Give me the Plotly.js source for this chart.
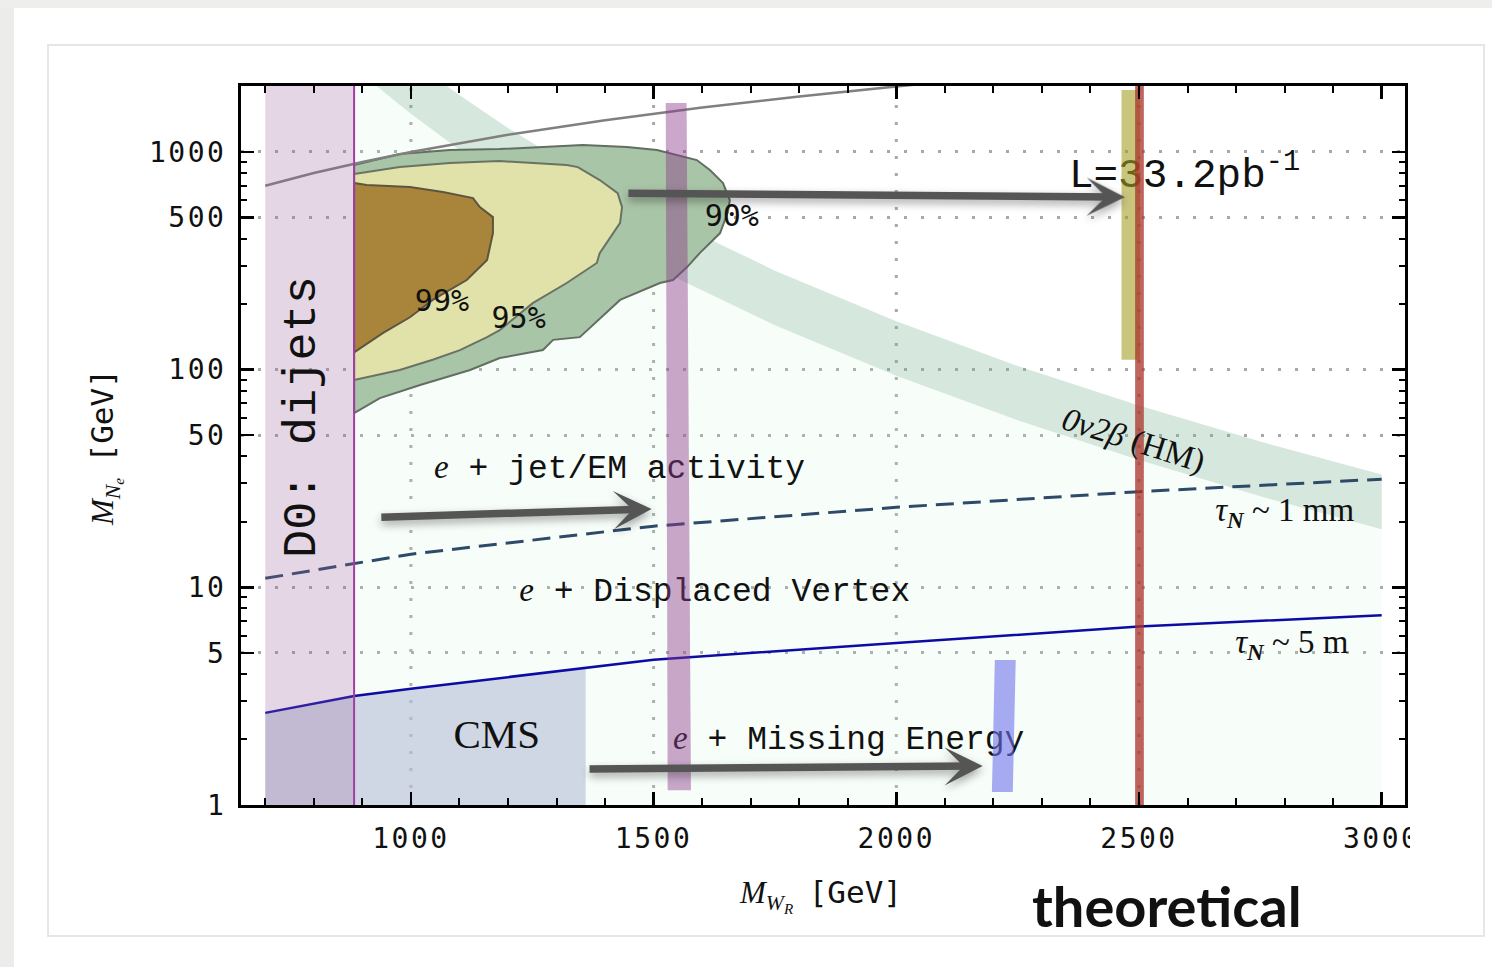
<!DOCTYPE html>
<html><head><meta charset="utf-8">
<script src="https://cdn.plot.ly/plotly-3.0.1.min.js"></script>
<style>
html,body{margin:0;padding:0;background:#fff;}
#chart{width:1492px;height:967px;}
.xtick text, .ytick text { letter-spacing: 2.5px; }
.annotation-arrow-g { filter: drop-shadow(0px 4px 4px rgba(0,0,0,0.35)); }
</style></head><body><div id="chart"></div>
<script>
// ---------- data (M_WR in GeV on x, M_Ne in GeV on y) ----------
const grayX = [700, 800, 900, 1000, 1200, 1400, 1600, 1800, 2000, 2100];
const grayY = [700, 800, 900, 1000, 1200, 1400, 1600, 1800, 2000, 2100];

const dashX = [700, 1000, 1500, 2000, 2500, 3000];
const dashY = [11.0, 14.2, 19.1, 23.3, 27.5, 31.4];

const blueX = [700, 883, 1000, 1360, 1500, 2000, 2500, 3000];
const blueY = [2.65, 3.17, 3.42, 4.26, 4.65, 5.55, 6.6, 7.45];

const bandLowX = [915, 950, 1000, 1100, 1200, 1350, 1500, 1750, 2000, 2250, 2500, 2750, 3000];
const bandLowY = [2138, 1840, 1499, 1024, 723, 451, 296, 160, 93.7, 58.5, 38.4, 26.2, 18.5];
const bandUpX = [1066, 1100, 1200, 1350, 1500, 1750, 2000, 2250, 2500, 2750, 3000];
const bandUpY = [2069, 1826, 1289, 805, 528, 285, 167, 104, 68.4, 46.7, 33];

const c90X = [883, 977, 1080, 1183, 1354, 1445, 1507, 1589, 1616, 1643, 1657, 1653, 1637, 1595, 1569, 1540, 1513, 1431, 1348, 1293, 1272, 1183, 1122, 1019, 936, 883];
const c90Y = [871, 978, 1020, 1031, 1076, 1053, 1020, 918, 826, 720, 601, 530, 424, 343, 296, 258, 250, 209, 141, 137, 123, 113, 99.6, 85, 74, 63.2];

const c95X = [883, 977, 1080, 1183, 1321, 1344, 1389, 1426, 1435, 1431, 1389, 1383, 1321, 1286, 1251, 1183, 1157, 1101, 1045, 977, 883];
const c95Y = [792, 852, 889, 908, 871, 852, 743, 647, 558, 472, 343, 309, 250, 225, 202, 152, 141, 123, 111, 99.6, 89.6];

const c99X = [883, 909, 998, 1066, 1128, 1142, 1169, 1169, 1157, 1115, 1045, 998, 942, 883];
const c99Y = [720, 705, 690, 654, 614, 558, 502, 424, 319, 258, 209, 174, 147, 120];

const cmsRightX = 1360;
const d0X = [700, 883];

const barPurpleX = [1529, 1577, 1568, 1525];
const barPurpleY = [1.17, 1.17, 1677, 1677];
const barOliveX = [2464, 2502, 2502, 2464];
const barOliveY = [111, 111, 1924, 1924];
const barRedX = [2492, 2510, 2510, 2492];
const barRedY = [0.9, 0.9, 2200, 2200];
const barBlueX = [2197, 2240, 2246, 2203];
const barBlueY = [1.147, 1.147, 4.64, 4.64];

const arrowX0 = [1445, 936, 1365];
const arrowY0 = [647, 21.0, 1.464];
const arrowX1 = [2471, 1496, 2178];
const arrowY1 = [621, 22.9, 1.51];

const xTickVals = [1000, 1500, 2000, 2500, 3000];
const xTickText = ['1000', '1500', '2000', '2500', '3000'];
const xMinor = [700, 800, 900, 1100, 1200, 1300, 1400, 1600, 1700, 1800, 1900, 2100, 2200, 2300, 2400, 2600, 2700, 2800, 2900];
const yTickVals = [1, 5, 10, 50, 100, 500, 1000];
const yTickText = ['1', '5', '10', '50', '100', '500', '1000'];
const yMinor = [2, 3, 4, 6, 7, 8, 9, 20, 30, 40, 60, 70, 80, 90, 200, 300, 400, 600, 700, 800, 900, 2000];
const xGrid = [1000, 1500, 2000, 2500];

// ---------- helpers ----------
const MONO = 'Liberation Mono, Courier New, monospace';
const SERIF = 'Liberation Serif, Times New Roman, serif';
const TICK = 'DejaVu Sans Mono, monospace';
const L = 241, T = 86, W = 1164, H = 719;
const px = v => (v - L) / W;
const py = v => (805 - v) / H;
const rev = a => a.slice().reverse();

const traces = [];
function poly(x, y, fill, line, lw) {
  traces.push({type: 'scatter', mode: lw ? 'lines' : 'none', x: x.concat([x[0]]), y: y.concat([y[0]]),
    fill: 'toself', fillcolor: fill, line: {color: line || 'rgba(0,0,0,0)', width: lw || 0},
    hoverinfo: 'skip', showlegend: false});
}
function line(x, y, color, width, dash) {
  traces.push({type: 'scatter', mode: 'lines', x: x, y: y,
    line: {color: color, width: width, dash: dash || 'solid'}, hoverinfo: 'skip', showlegend: false});
}
function txt(x, y, text, family, size, color) {
  traces.push({type: 'scatter', mode: 'text', x: [x], y: [y], text: [text], textposition: 'middle center',
    textfont: {family: family, size: size, color: color || '#111'}, hoverinfo: 'skip', showlegend: false});
}

// mint allowed region (below 0v2b band)
poly([d0X[1], d0X[1]].concat(bandLowX, [3000]), [1, bandLowY[0]].concat(bandLowY, [1]), 'rgba(200,240,212,0.14)');
// 0v2b band
poly(bandUpX.concat(rev(bandLowX)), bandUpY.concat(rev(bandLowY)), 'rgba(120,180,145,0.3)');
// CMS region
const cmsIdx = blueX.map((v, i) => i).filter(i => blueX[i] <= cmsRightX);
poly(cmsIdx.map(i => blueX[i]).concat([cmsRightX, blueX[0]]), cmsIdx.map(i => blueY[i]).concat([1, 1]), 'rgba(180,190,215,0.6)');
// contours
poly(c90X, c90Y, '#a9c5a7', '#626e62', 2);
poly(c95X, c95Y, '#e0e2aa', '#6a7264', 2);
poly(c99X, c99Y, '#a8853a', '#5e5440', 2);
// lines
line(grayX, grayY, '#808080', 2.5);
line(dashX, dashY, '#2f4a68', 3, '18px,9px');
line(blueX, blueY, '#0c0ca4', 2.5);
// D0 dijets band
poly([d0X[0], d0X[1], d0X[1], d0X[0]], [0.9, 0.9, 2200, 2200], 'rgba(148,91,148,0.25)');
line([d0X[1], d0X[1]], [0.9, 2200], '#a23ea2', 2);
// texts (below the overlay bars)
const eI = '<span style="font-family:Liberation Serif"><i>e</i></span>';
txt(1430, 34.6, eI + ' + jet/EM activity', MONO, 33);
txt(1626, 9.42, eI + ' + Displaced Vertex', MONO, 33);
txt(1902, 1.97, eI + ' + Missing Energy', MONO, 33);
txt(2594, 767, 'L=33.2pb<sup>-1</sup>', MONO, 41);
txt(1177, 2.03, 'CMS', SERIF, 41);
txt(1064, 202, '99%', TICK, 30);
txt(1222, 169, '95%', TICK, 30);
txt(1661, 497, '90%', TICK, 30);
txt(2800, 21.9, '<i>τ</i><sub><b><i>N</i></b></sub> ~ 1 mm', SERIF, 33);
txt(2815, 5.43, '<i>τ</i><sub><b><i>N</i></b></sub> ~ 5 m', SERIF, 33);
// overlay bars
poly(barPurpleX, barPurpleY, 'rgba(140,60,140,0.45)');
poly(barOliveX, barOliveY, 'rgba(163,158,38,0.6)');
poly(barRedX, barRedY, 'rgba(170,50,40,0.75)');
poly(barBlueX, barBlueY, 'rgba(110,115,235,0.6)');

// ---------- annotations ----------
const ann = [];
for (let i = 0; i < arrowX0.length; i++) {
  ann.push({xref: 'x', yref: 'y', axref: 'x', ayref: 'y', x: arrowX1[i], y: Math.log10(arrowY1[i]),
    ax: arrowX0[i], ay: Math.log10(arrowY0[i]), text: '', showarrow: true, arrowhead: 3, arrowsize: 0.85,
    arrowwidth: 7.5, arrowcolor: '#555555', standoff: 0});
}
function note(x, y, text, family, size, angle, extra) {
  ann.push(Object.assign({xref: 'paper', yref: 'paper', x: px(x), y: py(y), text: text, showarrow: false,
    xanchor: 'center', yanchor: 'middle', textangle: angle || 0, font: {family: family, size: size, color: '#111'}}, extra || {}));
}
note(302, 417, 'D0: dijets', MONO, 47, -90);
note(1134, 440, '<i>0ν2β</i> (HM)', SERIF, 33, 17.5);
note(820, 895, '<i>M</i><sub><i>W</i><sub><i>R</i></sub></sub>  <span style="font-family:DejaVu Sans Mono">[GeV]</span>', SERIF, 31, 0);
note(105, 448, '<i>M</i><sub><i>N</i><sub><i>e</i></sub></sub>  <span style="font-family:DejaVu Sans Mono">[GeV]</span>', SERIF, 31, -90);
note(1167, 905, 'theoretical', 'Lato, sans-serif', 56, 0, {font: {family: 'Lato, sans-serif', size: 56, color: '#111', weight: 700}});

// ---------- shapes ----------
const shapes = [];
xGrid.forEach(v => shapes.push({type: 'line', xref: 'x', yref: 'paper', x0: v, x1: v, y0: 0, y1: 1, layer: 'below',
  line: {color: '#a8a8a8', width: 3, dash: '3px,14px'}}));
// page frame
shapes.push({type: 'rect', xref: 'paper', yref: 'paper', x0: px(0), x1: px(14), y0: py(967), y1: py(0), layer: 'below', fillcolor: '#ececea', line: {width: 0}});
shapes.push({type: 'rect', xref: 'paper', yref: 'paper', x0: px(0), x1: px(1492), y0: py(8), y1: py(0), layer: 'below', fillcolor: '#eeeeec', line: {width: 0}});
shapes.push({type: 'rect', xref: 'paper', yref: 'paper', x0: px(48), x1: px(1484), y0: py(936), y1: py(45), layer: 'below', fillcolor: 'rgba(0,0,0,0)', line: {color: '#e6e6e6', width: 2}});
// clip of the last x tick label
shapes.push({type: 'rect', xref: 'paper', yref: 'paper', x0: px(1410), x1: px(1470), y0: py(866), y1: py(812), layer: 'above', fillcolor: '#ffffff', line: {width: 0}});

const axisCommon = {ticks: 'inside', ticklen: 13, tickwidth: 2.5, tickcolor: '#000', showline: true, linewidth: 3,
  linecolor: '#000', mirror: 'allticks', zeroline: false, tickfont: {family: TICK, size: 28, color: '#111'}};

const layout = {
  width: 1492, height: 967, margin: {l: L, r: 1492 - L - W, t: T, b: 967 - T - H},
  paper_bgcolor: '#ffffff', plot_bgcolor: '#ffffff', showlegend: false, hovermode: false,
  xaxis: Object.assign({}, axisCommon, {range: [650, 3048], tickmode: 'array', tickvals: xTickVals, ticktext: xTickText,
    showgrid: false, ticklabelstandoff: 6,
    minor: {tickmode: 'array', tickvals: xMinor, ticks: 'inside', ticklen: 7, tickwidth: 2, tickcolor: '#000', showgrid: false}}),
  yaxis: Object.assign({}, axisCommon, {type: 'log', range: [0, 3.303], tickmode: 'array', tickvals: yTickVals, ticktext: yTickText,
    showgrid: true, gridcolor: '#a8a8a8', gridwidth: 3, griddash: '3px,14px', ticklabelstandoff: 6,
    minor: {tickmode: 'array', tickvals: yMinor, ticks: 'inside', ticklen: 6, tickwidth: 2, tickcolor: '#000', showgrid: false}}),
  annotations: ann, shapes: shapes
};

Plotly.newPlot('chart', traces, layout, {displayModeBar: false, staticPlot: true});
</script></body></html>
